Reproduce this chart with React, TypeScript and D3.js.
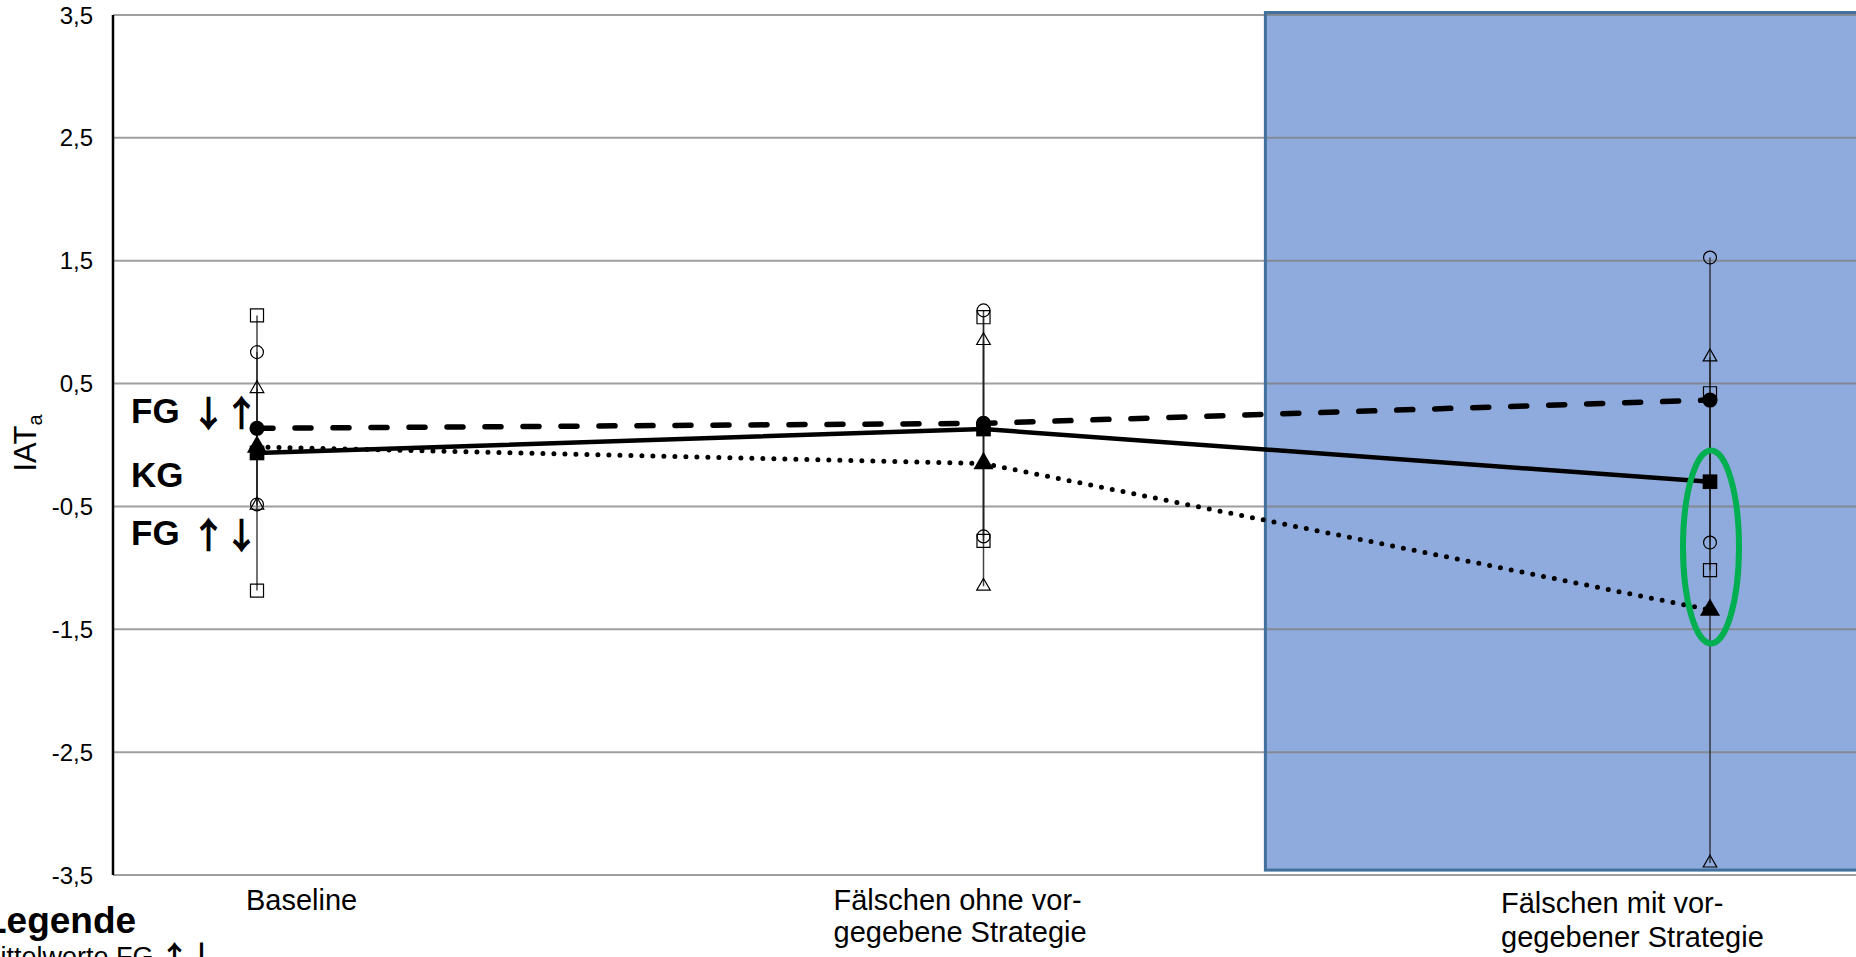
import * as d3 from 'd3';

// IAT_a means per condition, three groups, with symmetric error bars.

const WIDTH  = 1856;
const HEIGHT = 957;
const PLOT   = { left: 113, right: WIDTH, top: 15, bottom: 875 };
const FONT   = "'Liberation Sans', Arial, sans-serif";
const ARROW_FONT = "'Noto Sans CJK SC', 'DejaVu Sans', sans-serif";

const CATEGORIES = ['Baseline', 'Fälschen ohne vorgegebene Strategie', 'Fälschen mit vorgegebener Strategie'];
const CATEGORY_LINES = [
  ['Baseline'],
  ['Fälschen ohne vor-', 'gegebene Strategie'],
  ['Fälschen mit vor-', 'gegebener Strategie'],
];

const Y_TICKS = [-3.5, -2.5, -1.5, -0.5, 0.5, 1.5, 2.5, 3.5];

// FG ↓↑ (dashed, circle)
const FG_DOWN_UP_MEAN = [0.136, 0.176, 0.366];
const FG_DOWN_UP_ERR  = [0.62, 0.92, 1.16];
// KG (solid, square)
const KG_MEAN = [-0.065, 0.13, -0.299];
const KG_ERR  = [1.12, 0.91, 0.72];
// FG ↑↓ (dotted, triangle)
const FG_UP_DOWN_MEAN = [-0.016, -0.15, -1.343];
const FG_UP_DOWN_ERR  = [0.475, 1.0, 2.06];

// annotations (data units)
const SHADE_FROM_STEP = 0.612;           // shading starts this many steps left of the last category
const SHADE_Y = [3.52, -3.46];
const HIGHLIGHT = { cy: -0.83, ry: 0.785 };

const xScale = d3.scalePoint<string>().domain(CATEGORIES).range([257, 1710]);
const yScale = d3.scaleLinear().domain([-3.5, 3.5]).range([PLOT.bottom, PLOT.top]);

const fmt = (v: number) => String(v).replace('.', ',');

interface Series {
  mean: number[];
  err: number[];
  dash: string;
  width: number;
  symbol: d3.SymbolType;
  filledSize: number;
  openSize: number;
}

const SERIES: Series[] = [
  { mean: FG_DOWN_UP_MEAN, err: FG_DOWN_UP_ERR, dash: '16 22', width: 5.5, symbol: d3.symbolCircle, filledSize: 180, openSize: 130 },
  { mean: KG_MEAN, err: KG_ERR, dash: '', width: 4.5, symbol: d3.symbolSquare, filledSize: 215, openSize: 170 },
  { mean: FG_UP_DOWN_MEAN, err: FG_UP_DOWN_ERR, dash: '0 11', width: 5, symbol: d3.symbolTriangle, filledSize: 175, openSize: 80 },
];

const cx = (i: number) => xScale(CATEGORIES[i]) as number;

export default function App() {
  const step = xScale.step();
  const shadeX = cx(2) - SHADE_FROM_STEP * step;
  const lineGen = d3.line<number>().x((_, i) => cx(i)).y((d) => yScale(d));

  const labelDx = [-11, -150, -209];
  const labelY  = [910, 910, 913];
  const labelLh = [0, 32, 34];

  return (
    <svg width={WIDTH} height={HEIGHT} style={{ position: 'absolute', left: 0, top: 0, background: '#fff' }} fontFamily={FONT}>
      {/* shaded condition */}
      <rect x={shadeX} y={yScale(SHADE_Y[0])} width={WIDTH - shadeX + 20} height={yScale(SHADE_Y[1]) - yScale(SHADE_Y[0])} fill="#8faadc" />

      {/* gridlines */}
      {Y_TICKS.map((t) => (
        <line key={t} x1={PLOT.left} x2={PLOT.right} y1={yScale(t)} y2={yScale(t)} stroke="#7f7f7f" strokeOpacity={0.75} strokeWidth={2} />
      ))}

      <rect x={shadeX} y={yScale(SHADE_Y[0])} width={WIDTH - shadeX + 20} height={yScale(SHADE_Y[1]) - yScale(SHADE_Y[0])} fill="none" stroke="#41719c" strokeWidth={3} />

      {/* y axis */}
      <line x1={PLOT.left} x2={PLOT.left} y1={PLOT.top} y2={PLOT.bottom} stroke="#000" strokeWidth={2.5} />
      {Y_TICKS.map((t) => (
        <text key={t} x={93} y={yScale(t) + 8.5} textAnchor="end" fontSize={24} fill="#000">{fmt(t)}</text>
      ))}
      <text transform={`translate(36, 443) rotate(-90)`} textAnchor="middle" fontSize={31} fill="#000">
        IAT<tspan fontSize={20} dy={6}>a</tspan>
      </text>

      {/* mean lines */}
      {SERIES.map((s, k) => (
        <path key={k} d={lineGen(s.mean) ?? ''} fill="none" stroke="#000" strokeWidth={s.width}
          strokeDasharray={s.dash || undefined} strokeLinecap={s.dash ? 'round' : 'butt'} />
      ))}

      {/* error bars */}
      {SERIES.map((s, k) => s.mean.map((m, i) => (
        <line key={`e${k}-${i}`} x1={cx(i)} x2={cx(i)} y1={yScale(m + s.err[i])} y2={yScale(m - s.err[i])} stroke="#222" strokeOpacity={0.85} strokeWidth={1.5} />
      )))}
      {SERIES.map((s, k) => s.mean.map((m, i) => [m + s.err[i], m - s.err[i]].map((v, j) => (
        <path key={`o${k}-${i}-${j}`} transform={`translate(${cx(i)},${yScale(v)})`}
          d={d3.symbol().type(s.symbol).size(s.openSize)() ?? ''} fill="none" stroke="#000" strokeWidth={1.2} />
      ))))}

      {/* mean markers */}
      {SERIES.map((s, k) => s.mean.map((m, i) => (
        <path key={`m${k}-${i}`} transform={`translate(${cx(i)},${yScale(m)})`}
          d={d3.symbol().type(s.symbol).size(s.filledSize)() ?? ''} fill="#000" />
      )))}

      {/* highlight */}
      <ellipse cx={cx(2) + 1} cy={yScale(HIGHLIGHT.cy)} rx={28} ry={yScale(HIGHLIGHT.cy - HIGHLIGHT.ry) - yScale(HIGHLIGHT.cy)}
        fill="none" stroke="#00b050" strokeWidth={6} />

      {/* group labels */}
      {[
        { t: 'FG', a: '↓↑', y: 423 },
        { t: 'KG', a: '', y: 487 },
        { t: 'FG', a: '↑↓', y: 545 },
      ].map((l) => (
        <g key={l.y}>
          <text x={131} y={l.y} fontSize={35} fontWeight="bold" fill="#000">{l.t}</text>
          {l.a && (
            <text x={192} y={l.y + 3} fontFamily={ARROW_FONT} fontSize={34} fill="#000" stroke="#000" strokeWidth={1.6}
              textLength={66} lengthAdjust="spacingAndGlyphs">{l.a}</text>
          )}
        </g>
      ))}

      {/* category labels */}
      {CATEGORY_LINES.map((lines, i) => (
        <text key={i} x={cx(i) + labelDx[i]} y={labelY[i]} fontSize={29} fill="#000">
          {lines.map((ln, j) => (
            <tspan key={j} x={cx(i) + labelDx[i]} dy={j === 0 ? 0 : labelLh[i]}>{ln}</tspan>
          ))}
        </text>
      ))}

      {/* legend (cut off in the original) */}
      <text x={-16} y={933} fontSize={37} fontWeight="bold" fill="#000">Legende</text>
      <text x={-22} y={966} fontSize={27} fill="#000">
        Mittelwerte FG <tspan fontFamily={ARROW_FONT} fill="#000" stroke="#000" strokeWidth={1.2}>↑↓</tspan>
      </text>
    </svg>
  );
}
